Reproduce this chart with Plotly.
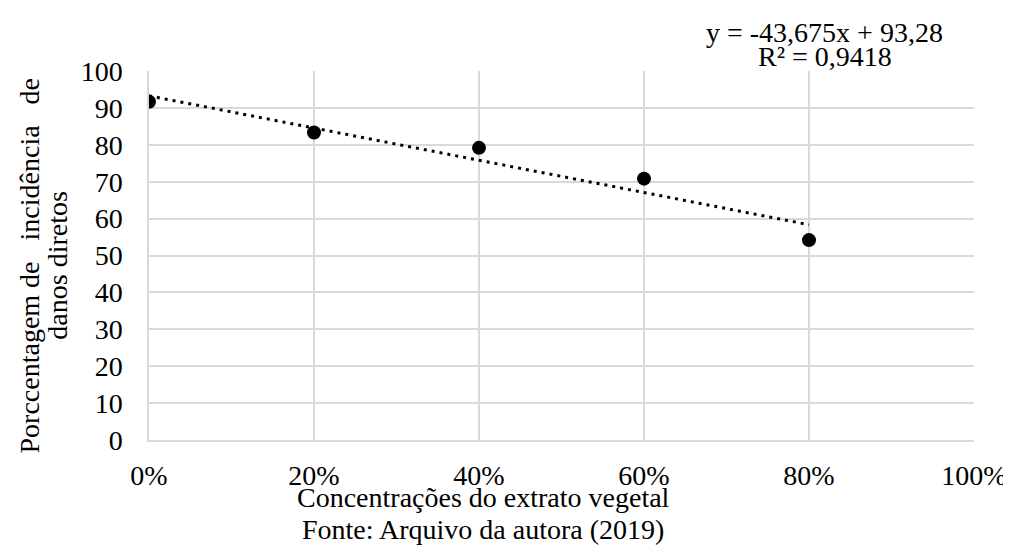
import plotly.graph_objects as go

concentracoes = [0.0, 0.2, 0.4, 0.6, 0.8]
incidencia = [91.67, 83.33, 79.17, 70.83, 54.17]
trend_slope = -43.675
trend_intercept = 93.28
trend_x = [0.0, 0.8]
x_ticks = [0, 0.2, 0.4, 0.6, 0.8, 1.0]
x_tick_labels = ["0%", "20%", "40%", "60%", "80%", "100%"]
y_ticks = [0, 10, 20, 30, 40, 50, 60, 70, 80, 90, 100]

trend_y = [trend_slope * v + trend_intercept for v in trend_x]

FONT = "Liberation Serif, Times New Roman, serif"
GRID = "#d9d9d9"
FS = 28

fig = go.Figure()
fig.add_trace(go.Scatter(
    x=trend_x, y=trend_y, mode="lines",
    line=dict(color="black", width=3, dash="3px,5px"),
    hoverinfo="skip", showlegend=False,
))
fig.add_trace(go.Scatter(
    x=concentracoes, y=incidencia, mode="markers",
    marker=dict(color="black", size=14),
    showlegend=False,
))

fig.update_layout(
    width=1003, height=546,
    margin=dict(l=141, r=37, t=63, b=114, autoexpand=False),
    paper_bgcolor="white", plot_bgcolor="white",
    font=dict(family=FONT, size=FS, color="black"),
    xaxis=dict(
        range=[0, 1.0], tickvals=x_ticks, ticktext=x_tick_labels,
        showgrid=True, gridcolor=GRID, gridwidth=1.5,
        showline=True, linecolor=GRID, linewidth=1.5,
        zeroline=False, ticks="", ticklabelstandoff=10,
        automargin=False, fixedrange=True,
    ),
    yaxis=dict(
        range=[0, 100], tickvals=y_ticks,
        showgrid=True, gridcolor=GRID, gridwidth=1.5,
        showline=True, linecolor=GRID, linewidth=1.5,
        zeroline=False, ticks="", ticklabelstandoff=19,
        automargin=False, fixedrange=True,
    ),
    annotations=[
        dict(text="y = -43,675x + 93,28",
             xref="paper", yref="paper", x=0.819, y=1.103,
             xanchor="center", yanchor="middle", showarrow=False),
        dict(text="R² = 0,9418",
             xref="paper", yref="paper", x=0.819, y=1.038,
             xanchor="center", yanchor="middle", showarrow=False),
        dict(text="Porccentagem de&nbsp;&nbsp; incidência&nbsp;&nbsp; de",
             xref="paper", yref="paper", x=-0.145, y=0.474,
             xanchor="center", yanchor="middle", textangle=-90,
             showarrow=False),
        dict(text="danos diretos",
             xref="paper", yref="paper", x=-0.112, y=0.474,
             xanchor="center", yanchor="middle", textangle=-90,
             showarrow=False),
        dict(text="Concentrações do extrato vegetal",
             xref="paper", yref="paper", x=0.405, y=0, yshift=-57,
             xanchor="center", yanchor="middle", showarrow=False),
        dict(text="Fonte: Arquivo da autora (2019)",
             xref="paper", yref="paper", x=0.405, y=0, yshift=-89,
             xanchor="center", yanchor="middle", showarrow=False),
    ],
)

fig.write_html("out.html")
